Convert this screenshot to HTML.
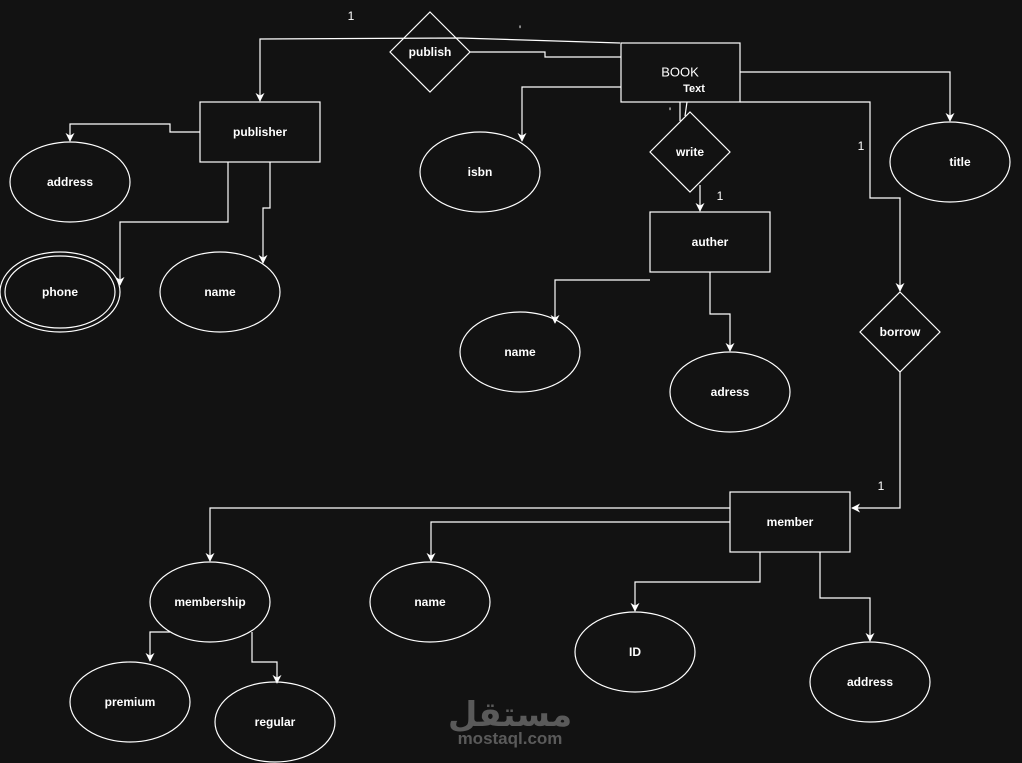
<!DOCTYPE html>
<html><head><style>body{margin:0;background:#121212}svg{display:block}</style></head><body>
<svg width="1022" height="763" xmlns="http://www.w3.org/2000/svg" font-family="Liberation Sans, sans-serif">
<defs><marker id="a" markerWidth="8" markerHeight="8" refX="4" refY="7" orient="auto-start-reverse" markerUnits="userSpaceOnUse"><path d="M0,0 L4,7 L8,0 L4,2 Z" fill="#fff" transform="rotate(0)"/></marker>
<marker id="d" viewBox="0 0 10 10" markerWidth="9" markerHeight="9" refX="9" refY="5" orient="auto" markerUnits="userSpaceOnUse"><path d="M0,0 L10,5 L0,10 L3,5 Z" fill="#fff"/></marker></defs>
<rect width="1022" height="763" fill="#121212"/>
<g fill="none" stroke="#fff" stroke-width="1.2">
<!-- shapes -->
<polygon points="430,12 470,52 430,92 390,52" fill="#121212"/>
<rect x="621" y="43" width="119" height="59"/>
<polygon points="690,112 730,152 690,192 650,152" fill="#121212"/>
<polygon points="900,292 940,332 900,372 860,332"/>
<rect x="200" y="102" width="120" height="60"/>
<rect x="650" y="212" width="120" height="60"/>
<rect x="730" y="492" width="120" height="60"/>
<ellipse cx="70" cy="182" rx="60" ry="40"/>
<ellipse cx="60" cy="292" rx="60" ry="40"/>
<ellipse cx="60" cy="292" rx="55" ry="36"/>
<ellipse cx="220" cy="292" rx="60" ry="40"/>
<ellipse cx="480" cy="172" rx="60" ry="40"/>
<ellipse cx="950" cy="162" rx="60" ry="40"/>
<ellipse cx="520" cy="352" rx="60" ry="40"/>
<ellipse cx="730" cy="392" rx="60" ry="40"/>
<ellipse cx="210" cy="602" rx="60" ry="40"/>
<ellipse cx="430" cy="602" rx="60" ry="40"/>
<ellipse cx="635" cy="652" rx="60" ry="40"/>
<ellipse cx="870" cy="682" rx="60" ry="40"/>
<ellipse cx="130" cy="702" rx="60" ry="40"/>
<ellipse cx="275" cy="722" rx="60" ry="40"/>
<!-- connectors -->
<polyline points="620,43 460,38 260,39 260,101" marker-end="url(#d)"/>
<polyline points="470,52 545,52 545,57 621,57"/>
<polyline points="621,87 522,87 522,141" marker-end="url(#d)"/>
<polyline points="680,102 680,121"/>
<polyline points="687,102 685,116"/>
<polyline points="700,185 700,211" marker-end="url(#d)"/>
<polyline points="740,72 950,72 950,121" marker-end="url(#d)"/>
<polyline points="740,102 870,102 870,198 900,198 900,291" marker-end="url(#d)"/>
<polyline points="900,372 900,508 852,508" marker-end="url(#d)"/>
<polyline points="200,132 170,132 170,124 70,124 70,141" marker-end="url(#d)"/>
<polyline points="228,162 228,222 120,222 120,285" marker-end="url(#d)"/>
<polyline points="270,162 270,208 263,208 263,263" marker-end="url(#d)"/>
<polyline points="650,280 555,280 555,323" marker-end="url(#d)"/>
<polyline points="710,272 710,314 730,314 730,351" marker-end="url(#d)"/>
<polyline points="730,508 210,508 210,561" marker-end="url(#d)"/>
<polyline points="730,522 431,522 431,561" marker-end="url(#d)"/>
<polyline points="760,552 760,582 635,582 635,611" marker-end="url(#d)"/>
<polyline points="820,552 820,598 870,598 870,641" marker-end="url(#d)"/>
<polyline points="170,632 150,632 150,661" marker-end="url(#d)"/>
<polyline points="252,632 252,662 277,662 277,683" marker-end="url(#d)"/>
</g>
<g fill="#fff" font-size="12" font-weight="bold" text-anchor="middle" dominant-baseline="central">
<text x="430" y="52">publish</text>
<text x="680" y="72" font-weight="normal" font-size="13">BOOK</text>
<text x="694" y="89" font-size="11">Text</text>
<text x="690" y="152">write</text>
<text x="900" y="332">borrow</text>
<text x="260" y="132">publisher</text>
<text x="710" y="242">auther</text>
<text x="790" y="522">member</text>
<text x="70" y="182">address</text>
<text x="60" y="292">phone</text>
<text x="220" y="292">name</text>
<text x="480" y="172">isbn</text>
<text x="960" y="162">title</text>
<text x="520" y="352">name</text>
<text x="730" y="392">adress</text>
<text x="210" y="602">membership</text>
<text x="430" y="602">name</text>
<text x="635" y="652">ID</text>
<text x="870" y="682">address</text>
<text x="130" y="702">premium</text>
<text x="275" y="722">regular</text>
<text x="351" y="16" font-weight="normal">1</text>
<text x="720" y="196" font-weight="normal">1</text>
<text x="861" y="146" font-weight="normal">1</text>
<text x="881" y="486" font-weight="normal">1</text>
<text x="520" y="30" font-weight="normal">'</text>
<text x="670" y="112" font-weight="normal">'</text>
</g>
<g fill="#5a5a5a" font-weight="bold" text-anchor="middle">
<text x="510" y="726" font-size="34" font-family="DejaVu Sans, sans-serif">مستقل</text>
<text x="510" y="744" font-size="17">mostaql.com</text>
</g>
</svg>
</body></html>
